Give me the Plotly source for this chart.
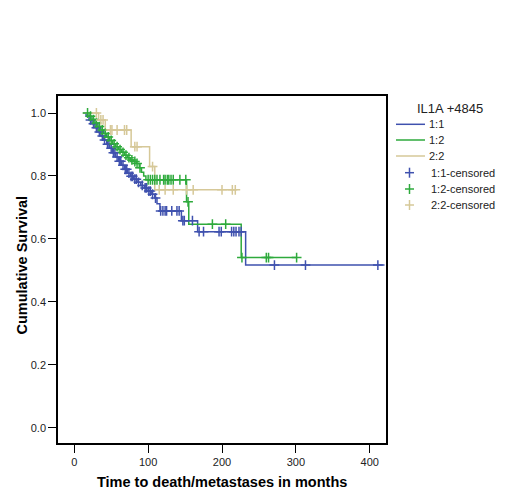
import plotly.graph_objects as go

# Kaplan-Meier step data (time in months, cumulative survival)
blue_t = [12, 16, 20, 24, 28, 32, 36, 40, 44, 48, 52, 56, 60, 64, 68, 72, 76, 80, 85, 90,
          95, 100, 105, 109, 112, 116, 145, 167, 232, 420]
blue_s = [1.0, 0.99, 0.978, 0.966, 0.953, 0.94, 0.927, 0.914, 0.901, 0.888, 0.874, 0.86, 0.847,
          0.834, 0.821, 0.809, 0.799, 0.79, 0.78, 0.77, 0.762, 0.752, 0.742, 0.73, 0.712, 0.689,
          0.658, 0.623, 0.517, 0.517]
blue_c = [22, 26, 30, 34, 38, 41, 45, 47, 50, 53, 55, 58, 61, 63, 66, 69, 71, 74, 77, 79, 82,
          84, 87, 92, 96, 98, 101, 103, 106, 110, 117, 120, 123, 125, 132, 139, 142, 147, 149,
          160, 169, 175, 196, 199, 213, 216, 219, 223, 226, 271, 313, 411]

green_t = [16, 20, 24, 28, 32, 36, 40, 44, 48, 52, 56, 60, 64, 68, 72, 76, 80, 84, 88, 91,
           94, 97, 152, 155, 226, 301]
green_s = [1.0, 0.99, 0.979, 0.968, 0.957, 0.946, 0.935, 0.924, 0.913, 0.902, 0.893, 0.884,
           0.875, 0.866, 0.858, 0.851, 0.846, 0.84, 0.826, 0.812, 0.8, 0.788, 0.718, 0.647,
           0.541, 0.541]
green_c = [18, 22, 26, 30, 34, 38, 42, 46, 50, 54, 58, 62, 66, 70, 74, 78, 82, 85, 89, 100,
           103, 106, 109, 112, 116, 121, 123, 126, 128, 131, 134, 143, 151, 154, 187, 205,
           227, 260, 263, 301]

beige_t = [12, 33, 42, 77, 102, 109, 218]
beige_s = [1.0, 0.978, 0.946, 0.893, 0.83, 0.756, 0.756]
beige_c = [30, 36, 39, 49, 51, 58, 68, 71, 82, 85, 106, 115, 123, 134, 152, 161, 200, 214, 218]

names = ["1:1", "1:2", "2:2"]
colors = ["#3F51AE", "#2EAA3C", "#D6C898"]
legend_title = "IL1A +4845"
x_title = "Time to death/metastases in months"
y_title = "Cumulative Survival"

x_ticks = [0, 100, 200, 300, 400]
y_ticks = [0.0, 0.2, 0.4, 0.6, 0.8, 1.0]

# geometry: the page body has an 8px margin, so figure coords = page coords - 8
OFF = 8
W, H = 513 - OFF, 499 - OFF
L, T = 58 - OFF, 96 - OFF
R = W - (386 - OFF)
B = H - (443 - OFF)
PW, PH = W - L - R, H - T - B


def px_x(p):  # page pixel -> paper x
    return (p - OFF - L) / PW


def px_y(p):  # page pixel -> paper y
    return (H - B - (p - OFF)) / PH


def surv_at(ts, ss, t):
    val = ss[0]
    for ti, si in zip(ts, ss):
        if ti <= t:
            val = si
        else:
            break
    return val


groups = [(blue_t, blue_s, blue_c), (green_t, green_s, green_c), (beige_t, beige_s, beige_c)]

fig = go.Figure()
for (ts, ss, cs), nm, col in zip(groups, names, colors):
    fig.add_trace(go.Scatter(x=ts, y=ss, mode="lines", line=dict(color=col, width=1.5, shape="hv"),
                             name=nm, showlegend=False))
for (ts, ss, cs), nm, col in zip(groups, names, colors):
    fig.add_trace(go.Scatter(x=cs, y=[surv_at(ts, ss, c) for c in cs], mode="markers",
                             marker=dict(symbol="cross-thin", size=7, color=col,
                                         line=dict(color=col, width=1.5)),
                             name=nm + "-censored", showlegend=False))

# hand-made legend (SPSS style)
shapes = []
annotations = []
annotations.append(dict(text=legend_title, xref="paper", yref="paper", x=px_x(450), y=px_y(108),
                        xanchor="center", yanchor="middle", showarrow=False,
                        font=dict(size=13, color="#222")))
line_rows = [124.3, 140, 156]
cens_rows = [172.7, 189, 205]
for row, nm, col in zip(line_rows, names, colors):
    shapes.append(dict(type="line", xref="paper", yref="paper", x0=px_x(396), x1=px_x(425),
                       y0=px_y(row), y1=px_y(row), line=dict(color=col, width=1.5)))
    annotations.append(dict(text=nm, xref="paper", yref="paper", x=px_x(426.5), y=px_y(row),
                            xanchor="left", yanchor="middle", showarrow=False,
                            font=dict(size=11, color="#222")))
for row, nm, col in zip(cens_rows, names, colors):
    cx = 409.5
    shapes.append(dict(type="line", xref="paper", yref="paper", x0=px_x(cx - 4.5), x1=px_x(cx + 4.5),
                       y0=px_y(row), y1=px_y(row), line=dict(color=col, width=1.5)))
    shapes.append(dict(type="line", xref="paper", yref="paper", x0=px_x(cx), x1=px_x(cx),
                       y0=px_y(row - 5), y1=px_y(row + 5), line=dict(color=col, width=1.5)))
    annotations.append(dict(text=nm + "-censored", xref="paper", yref="paper", x=px_x(429),
                            y=px_y(row), xanchor="left", yanchor="middle", showarrow=False,
                            font=dict(size=11, color="#222")))

# axis titles
annotations.append(dict(text="<b>" + x_title + "</b>", xref="paper", yref="paper",
                        x=px_x(222.5), y=px_y(481.5), xanchor="center", yanchor="middle",
                        showarrow=False, font=dict(size=14.5, color="black")))
annotations.append(dict(text="<b>" + y_title + "</b>", xref="paper", yref="paper",
                        x=px_x(21), y=px_y(265.5), xanchor="center", yanchor="middle",
                        textangle=-90, showarrow=False, font=dict(size=14.5, color="black")))

fig.update_layout(
    width=W, height=H,
    margin=dict(l=L, r=R, t=T, b=B, autoexpand=False),
    paper_bgcolor="white", plot_bgcolor="white",
    font=dict(family="Liberation Sans, Arial, sans-serif", size=11, color="#222"),
    showlegend=False,
    shapes=shapes,
    annotations=annotations,
)
fig.update_xaxes(
    range=[-22, 422], tickvals=x_ticks, ticks="outside", ticklen=8, tickcolor="black",
    showline=True, linecolor="black", linewidth=1.5, mirror=True, showgrid=False, zeroline=False,
    automargin=False,
)
fig.update_yaxes(
    range=[-0.048, 1.054], tickvals=y_ticks, tickformat=".1f", ticks="outside", ticklen=8,
    tickcolor="black",
    showline=True, linecolor="black", linewidth=1.5, mirror=True, showgrid=False, zeroline=False,
    automargin=False,
)

fig.write_html("out.html")
